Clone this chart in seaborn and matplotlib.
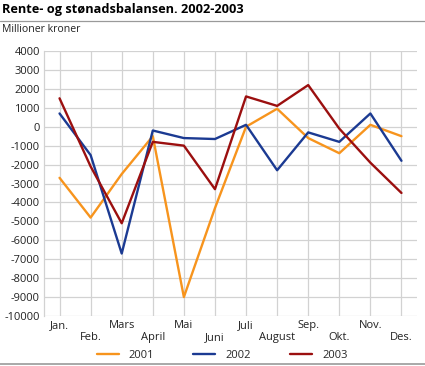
import matplotlib
matplotlib.use("Agg")
import matplotlib.pyplot as plt
import pandas as pd
import seaborn as sns

# Data (million NOK)
months = ['Jan.', 'Feb.', 'Mars', 'April', 'Mai', 'Juni',
          'Juli', 'August', 'Sep.', 'Okt.', 'Nov.', 'Des.']
y2001 = [-2700, -4800, -2500, -500, -9000, -4300, 0, 950, -600, -1400, 100, -500]
y2002 = [700, -1500, -6700, -200, -600, -650, 100, -2300, -300, -800, 700, -1800]
y2003 = [1500, -2100, -5100, -800, -1000, -3300, 1600, 1100, 2200, -100, -1900, -3500]
years = ['2001', '2002', '2003']
colors = ['#F7941D', '#1B3A92', '#9B0F0F']

df = pd.DataFrame({
    'month': list(range(12)) * 3,
    'value': y2001 + y2002 + y2003,
    'year': [y for y in years for _ in range(12)],
})

sns.set_style('white')
plt.rcParams['font.family'] = ['Open Sans', 'DejaVu Sans']

fig = plt.figure(figsize=(4.25, 3.66), dpi=100)
W, H = 425, 366
ax = fig.add_axes([44 / W, (H - 316) / H, (417 - 44) / W, (316 - 51) / H])

sns.lineplot(data=df, x='month', y='value', hue='year', palette=colors,
             linewidth=1.7, ax=ax, legend=False)

ax.set_xlim(-0.5, 11.5)
ax.set_ylim(-10000, 4000)
ax.set_yticks(range(-10000, 4001, 1000))
ax.set_yticklabels([str(v) for v in range(-10000, 4001, 1000)], fontsize=8, color='#222222')
ax.set_xticks(range(12))
ax.set_xticklabels([m if i % 2 == 0 else '\n' + m for i, m in enumerate(months)],
                   fontsize=8, color='#222222', linespacing=1.15)
ax.tick_params(length=0, pad=3)
ax.set_xlabel('')
ax.set_ylabel('')
ax.grid(True, color='#d2d2d2', linewidth=0.9)
ax.set_axisbelow(True)
for side in ['top', 'right', 'bottom']:
    ax.spines[side].set_visible(False)
ax.spines['left'].set_color('#d2d2d2')
ax.spines['left'].set_linewidth(0.9)

# Title, subtitle and separator lines
fig.text(2 / W, 1 - 9 / H, 'Rente- og stønadsbalansen. 2002-2003', fontsize=9.2,
         fontweight='bold', va='center', ha='left', color='#000000')
fig.add_artist(plt.Line2D([0, 1], [1 - 20.5 / H, 1 - 20.5 / H], color='#9a9a9a', linewidth=0.9))
fig.text(2 / W, 1 - 30 / H, 'Millioner kroner', fontsize=7.6, va='center', ha='left', color='#222222')
fig.add_artist(plt.Line2D([0, 1], [1 - 364 / H, 1 - 364 / H], color='#9a9a9a', linewidth=1.2))

# Legend
handles = [plt.Line2D([], [], color=c, linewidth=1.7) for c in colors]
fig.legend(handles, years, loc='center', bbox_to_anchor=(222 / W, 1 - 355 / H), ncol=3,
           frameon=False, fontsize=8, handlelength=2.0, columnspacing=3.5, handletextpad=0.9)

fig.savefig('out.png', dpi=100)
